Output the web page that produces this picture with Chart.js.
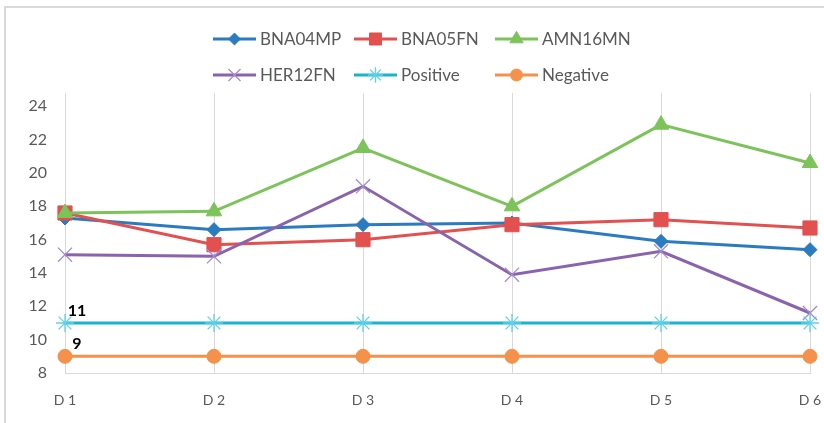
<!DOCTYPE html>
<html><head><meta charset="utf-8">
<script src="https://cdn.jsdelivr.net/npm/chart.js@4/dist/chart.umd.min.js"></script>
<style>
html,body{margin:0;padding:0;background:#fff;}
#wrap{position:relative;width:824px;height:423px;overflow:hidden;background:#fff;}
#frame{position:absolute;left:4px;top:6px;width:900px;height:600px;border:2px solid #d9d9d9;box-sizing:border-box;}
canvas{position:absolute;left:0;top:0;}
</style></head>
<body><div id="wrap"><div id="frame"></div><canvas id="c" width="824" height="423"></canvas></div>
<script>
const categories = ['D 1','D 2','D 3','D 4','D 5','D 6'];
const seriesNames = ['BNA04MP','BNA05FN','AMN16MN','HER12FN','Positive','Negative'];
const bna04mp = [17.3, 16.6, 16.9, 17.0, 15.9, 15.4];
const bna05fn = [17.6, 15.7, 16.0, 16.9, 17.2, 16.7];
const amn16mn = [17.6, 17.7, 21.5, 18.0, 22.9, 20.6];
const her12fn = [15.1, 15.0, 19.2, 13.9, 15.3, 11.6];
const positive = [11, 11, 11, 11, 11, 11];
const negative = [9, 9, 9, 9, 9, 9];
const yTicks = [8, 10, 12, 14, 16, 18, 20, 22, 24];
const labelledPoints = [{series: 4, index: 0, text: '11'}, {series: 5, index: 0, text: '9'}];

const colors = ['#2b7bc0','#e2504f','#7cc35a','#8a63ad','#16b4d1','#f5914a'];
const markerColors = ['#2b7bc0','#e2504f','#7cc35a','#a58bd0','#5fd0e6','#f5914a'];
const styles = ['rectRot','rect','triangle','crossRot','star','circle'];
const radii = [7, 10, 9, 10, 9, 7];
const pbw = [1, 1, 1, 1.3, 1.3, 1];
const values = [bna04mp, bna05fn, amn16mn, her12fn, positive, negative];

const datasets = seriesNames.map((n, i) => ({
  label: n, data: values[i],
  borderColor: colors[i], backgroundColor: markerColors[i],
  pointBorderColor: markerColors[i], pointBackgroundColor: markerColors[i],
  borderWidth: 3, pointStyle: styles[i], pointRadius: radii[i], pointBorderWidth: pbw[i],
  pointHoverRadius: radii[i], tension: 0, clip: false, order: 5 - i
}));

const legendPlugin = {
  id: 'gridLegend',
  afterDraw(chart) {
    const ctx = chart.ctx;
    const colX = [213, 354, 495];
    const rowY = [39, 75];
    ctx.save();
    chart.data.datasets.forEach((ds, i) => {
      const x = colX[i % 3], y = rowY[Math.floor(i / 3)];
      ctx.strokeStyle = ds.borderColor; ctx.lineWidth = 3;
      ctx.beginPath(); ctx.moveTo(x, y); ctx.lineTo(x + 43, y); ctx.stroke();
      ctx.fillStyle = ds.pointBackgroundColor; ctx.strokeStyle = ds.pointBorderColor;
      ctx.lineWidth = ds.pointBorderWidth;
      if (Chart.helpers && Chart.helpers.drawPoint) {
        Chart.helpers.drawPoint(ctx, {pointStyle: ds.pointStyle, radius: ds.pointRadius * 0.85, borderWidth: ds.pointBorderWidth, rotation: 0}, x + 21.5, y);
      }
      ctx.fillStyle = '#595959'; ctx.font = '17px Lato'; ctx.textAlign = 'left'; ctx.textBaseline = 'middle';
      ctx.fillText(ds.label, x + 47, y + 1);
    });
    ctx.restore();
  }
};

const dataLabelPlugin = {
  id: 'dataLabels',
  afterDatasetsDraw(chart) {
    const ctx = chart.ctx;
    ctx.save();
    ctx.fillStyle = '#000'; ctx.font = 'bold 16px Lato'; ctx.textAlign = 'center'; ctx.textBaseline = 'middle';
    labelledPoints.forEach(p => {
      const el = chart.getDatasetMeta(p.series).data[p.index];
      ctx.fillText(p.text, el.x + 12, el.y - 12);
    });
    ctx.restore();
  }
};

new Chart(document.getElementById('c'), {
  type: 'line',
  data: { labels: categories, datasets },
  options: {
    responsive: false, animation: false, devicePixelRatio: 1,
    layout: { padding: { top: 93, right: 2, left: 0, bottom: 0 } },
    plugins: { legend: { display: false }, tooltip: { enabled: false } },
    scales: {
      x: {
        offset: false,
        grid: { color: '#d9d9d9', lineWidth: 1, drawTicks: false },
        border: { color: '#d9d9d9', width: 1 },
        ticks: { color: '#595959', font: { family: 'Lato', size: 14 }, padding: 19, maxRotation: 0 },
        afterFit(s) { s.height = 50; s.paddingRight = 14; }
      },
      y: {
        min: 8, max: 24.8,
        grid: { display: false, drawTicks: false },
        border: { color: '#d9d9d9', width: 1 },
        ticks: { color: '#595959', font: { family: 'Lato', size: 16 }, padding: 18 },
        afterBuildTicks(s) { s.ticks = yTicks.map(v => ({ value: v })); },
        afterFit(s) { s.width = 65; }
      }
    }
  },
  plugins: [legendPlugin, dataLabelPlugin]
});
</script></body></html>
